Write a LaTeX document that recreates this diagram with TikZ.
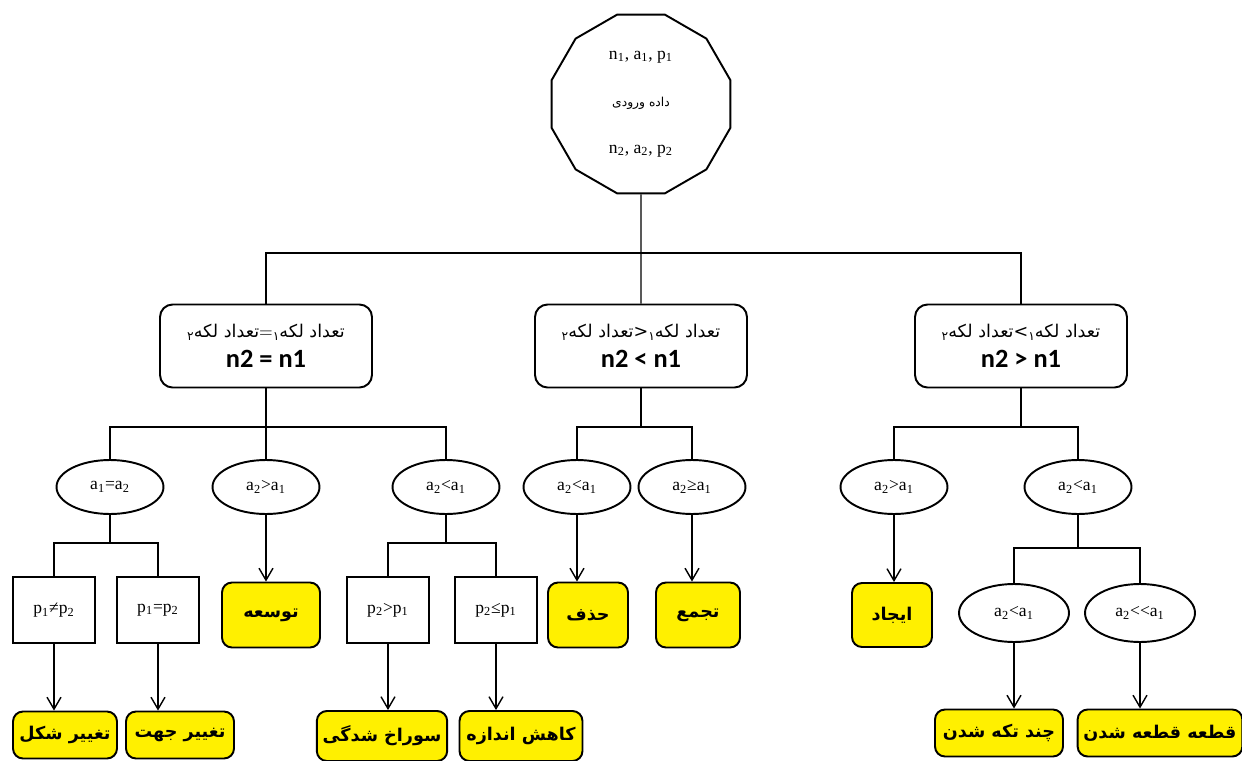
\documentclass[tikz,border=0pt]{standalone}
\usepackage{fontspec}
\setmainfont{Liberation Serif}
\newfontfamily\arabicfont[Script=Arabic]{DejaVu Sans}
\newfontfamily\calib{Carlito}
\TeXXeTstate=1
\usetikzlibrary{shapes.geometric,arrows.meta}
\definecolor{boxyellow}{RGB}{255,240,0}
\newcommand{\fa}[1]{{\arabicfont\beginR #1\endR}}
\newcommand{\fasub}[1]{\raisebox{-0.35ex}{\scriptsize\arabicfont #1}}
\newcommand{\cnt}[1]{{\normalsize\fasub{۲}\fa{تعداد لکه}#1\fasub{۱}\fa{تعداد لکه}}}

\begin{document}
\begin{tikzpicture}[x=0.02cm,y=-0.02cm,line width=0.8pt,
	>={Straight Barb[length=2.4mm,width=2.8mm]},
	poly/.style={regular polygon,regular polygon sides=12,draw,line width=1.1pt,minimum size=3.7cm,align=center},
	cond/.style={draw,rounded corners=0.25cm,line width=1.1pt,minimum width=4.24cm,minimum height=1.66cm,align=center},
	choice/.style={ellipse,draw,line width=1.1pt,minimum width=2.14cm,minimum height=1.08cm},
	test/.style={rectangle,draw,line width=1.1pt,minimum width=1.64cm,minimum height=1.32cm},
	result/.style={draw,fill=boxyellow,rounded corners=0.2cm,line width=1.1pt,font=\arabicfont\bfseries}]
	\useasboundingbox (0,0) rectangle (1242,761);
	% input data
	\node[poly] (input) at (641,104) {n\textsubscript{1}, a\textsubscript{1}, p\textsubscript{1}\\[0.52cm]{\scriptsize\fa{داده ورودی}}\\[0.52cm]n\textsubscript{2}, a\textsubscript{2}, p\textsubscript{2}};
	% number of spots
	\node[cond] (c1) at (266,346) {\cnt{$=$}\\[5pt]{\calib\bfseries\fontsize{15}{17}\selectfont n2 = n1}};
	\node[cond] (c2) at (641,346) {\cnt{{\arabicfont <}}\\[5pt]{\calib\bfseries\fontsize{15}{17}\selectfont n2 < n1}};
	\node[cond] (c3) at (1021,346) {\cnt{{\arabicfont >}}\\[5pt]{\calib\bfseries\fontsize{15}{17}\selectfont n2 > n1}};
	\coordinate (j0) at (641,253);
	\draw (input.south) -- (c2.north);
	\draw (c1.north) |- (j0) -| (c3.north);
	% areas
	\node[choice] (e11) at (110,487) {a\textsubscript{1}=a\textsubscript{2}};
	\node[choice] (e12) at (266,487) {a\textsubscript{2}>a\textsubscript{1}};
	\node[choice] (e13) at (446,487) {a\textsubscript{2}<a\textsubscript{1}};
	\node[choice] (e21) at (577,487) {a\textsubscript{2}<a\textsubscript{1}};
	\node[choice] (e22) at (692,487) {a\textsubscript{2}≥a\textsubscript{1}};
	\node[choice] (e31) at (894,487) {a\textsubscript{2}>a\textsubscript{1}};
	\node[choice] (e32) at (1078,487) {a\textsubscript{2}<a\textsubscript{1}};
	\coordinate (j1) at (266,427);
	\coordinate (j2) at (641,427);
	\coordinate (j3) at (1021,427);
	\draw (c1.south) -- (j1);
	\draw (e11.north) |- (j1) -| (e13.north);
	\draw (j1) -- (e12.north);
	\draw (c2.south) -- (j2);
	\draw (e21.north) |- (j2) -| (e22.north);
	\draw (c3.south) -- (j3);
	\draw (e31.north) |- (j3) -| (e32.north);
	% perimeters
	\node[test] (p1) at (54,610) {p\textsubscript{1}≠p\textsubscript{2}};
	\node[test] (p2) at (158,610) {p\textsubscript{1}=p\textsubscript{2}};
	\node[test] (p3) at (388,610) {p\textsubscript{2}>p\textsubscript{1}};
	\node[test] (p4) at (496,610) {p\textsubscript{2}≤p\textsubscript{1}};
	\node[choice,minimum width=2.2cm,minimum height=1.16cm] (e41) at (1014,613) {a\textsubscript{2}<a\textsubscript{1}};
	\node[choice,minimum width=2.2cm,minimum height=1.16cm] (e42) at (1140,613) {a\textsubscript{2}<\kern0pt<a\textsubscript{1}};
	\coordinate (j11) at (110,543);
	\coordinate (j13) at (446,543);
	\coordinate (j32) at (1078,548);
	\draw (e11.south) -- (j11);
	\draw (p1.north) |- (j11) -| (p2.north);
	\draw (e13.south) -- (j13);
	\draw (p3.north) |- (j13) -| (p4.north);
	\draw (e32.south) -- (j32);
	\draw (e41.north) |- (j32) -| (e42.north);
	% events
	\node[result,minimum width=2.08cm,minimum height=0.94cm] (r1) at (65,735) {\fa{تغییر شکل}};
	\node[result,minimum width=2.16cm,minimum height=0.94cm] (r2) at (180,735) {\fa{تغییر جهت}};
	\node[result,minimum width=1.96cm,minimum height=1.3cm] (r3) at (271,615) {\fa{توسعه}};
	\node[result,minimum width=2.54cm,minimum height=1.0cm] (r4) at (382,736) {\fa{سوراخ شدگی}};
	\node[result,minimum width=2.46cm,minimum height=1.0cm] (r5) at (521,736) {\fa{کاهش اندازه}};
	\node[result,minimum width=1.6cm,minimum height=1.3cm] (r6) at (588,615) {\fa{حذف}};
	\node[result,minimum width=1.68cm,minimum height=1.3cm] (r7) at (698,615) {\fa{تجمع}};
	\node[result,minimum width=1.6cm,minimum height=1.28cm] (r8) at (892,615) {\fa{ایجاد}};
	\node[result,minimum width=2.56cm,minimum height=0.94cm] (r9) at (999,733) {\fa{چند تکه شدن}};
	\node[result,minimum width=3.0cm,minimum height=0.94cm] (r10) at (1160,733) {\fa{قطعه قطعه شدن}};
	\draw[->] (p1.south) -- (p1.south |- r1.north);
	\draw[->] (p2.south) -- (p2.south |- r2.north);
	\draw[->] (e12.south) -- (e12.south |- r3.north);
	\draw[->] (p3.south) -- (p3.south |- r4.north);
	\draw[->] (p4.south) -- (p4.south |- r5.north);
	\draw[->] (e21.south) -- (e21.south |- r6.north);
	\draw[->] (e22.south) -- (e22.south |- r7.north);
	\draw[->] (e31.south) -- (e31.south |- r8.north);
	\draw[->] (e41.south) -- (e41.south |- r9.north);
	\draw[->] (e42.south) -- (e42.south |- r10.north);
\end{tikzpicture}
\end{document}
